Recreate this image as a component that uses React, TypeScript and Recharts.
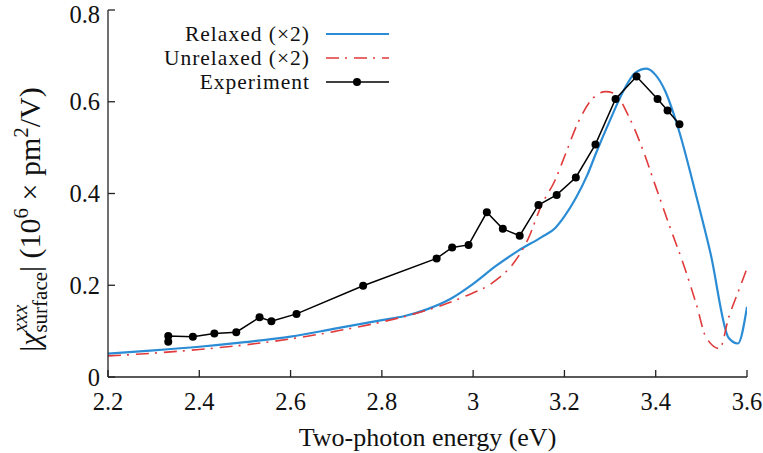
import { LineChart, Line, XAxis, YAxis, Legend, Label } from 'recharts';

// two-photon energy (eV) / |chi| values
const relaxedE = [2.2, 2.3, 2.4, 2.5, 2.6, 2.7, 2.8, 2.85, 2.9, 2.95, 3.0, 3.05, 3.1, 3.15, 3.18, 3.2, 3.225, 3.25, 3.27, 3.3, 3.33, 3.355, 3.38, 3.4, 3.42, 3.45, 3.49, 3.52, 3.56, 3.58, 3.6];
const relaxedChi = [0.051, 0.058, 0.066, 0.076, 0.088, 0.106, 0.124, 0.133, 0.148, 0.17, 0.203, 0.242, 0.276, 0.305, 0.325, 0.35, 0.39, 0.44, 0.49, 0.56, 0.625, 0.663, 0.672, 0.658, 0.625, 0.54, 0.39, 0.27, 0.085, 0.073, 0.153];

const unrelaxedE = [2.2, 2.3, 2.4, 2.5, 2.6, 2.7, 2.8, 2.9, 2.98, 3.05, 3.09, 3.12, 3.15, 3.18, 3.2, 3.23, 3.26, 3.29, 3.31, 3.34, 3.37, 3.4, 3.43, 3.46, 3.49, 3.51, 3.54, 3.56, 3.585, 3.6];
const unrelaxedChi = [0.046, 0.052, 0.06, 0.07, 0.083, 0.1, 0.12, 0.146, 0.175, 0.211, 0.25, 0.3, 0.375, 0.43, 0.48, 0.555, 0.605, 0.622, 0.618, 0.57, 0.5, 0.415, 0.33, 0.248, 0.155, 0.087, 0.062, 0.13, 0.197, 0.237];

const expE = [2.332, 2.332, 2.386, 2.433, 2.481, 2.532, 2.558, 2.613, 2.759, 2.92, 2.954, 2.99, 3.03, 3.065, 3.102, 3.143, 3.183, 3.225, 3.268, 3.312, 3.358, 3.404, 3.426, 3.452];
const expChi = [0.077, 0.0895, 0.088, 0.095, 0.0976, 0.13, 0.1216, 0.1376, 0.199, 0.2585, 0.2825, 0.288, 0.359, 0.323, 0.308, 0.375, 0.397, 0.435, 0.507, 0.606, 0.655, 0.606, 0.581, 0.551];

const xTicks = [2.2, 2.4, 2.6, 2.8, 3, 3.2, 3.4, 3.6];
const yTicks = [0, 0.2, 0.4, 0.6, 0.8];

const BLUE = '#2b8cd6';
const RED = '#e03a3a';
const FONT = "Liberation Serif, 'DejaVu Serif', serif";
const DASH = '13 6 2 7';

const pts = (xs: number[], ys: number[]) => xs.map((x, i) => ({ x, y: ys[i] }));
const relaxed = pts(relaxedE, relaxedChi);
const unrelaxed = pts(unrelaxedE, unrelaxedChi);
const experiment = pts(expE, expChi);

const legendItems = [
  { label: 'Relaxed (×2)', color: BLUE, width: 2.2, dash: undefined as string | undefined, dot: false },
  { label: 'Unrelaxed (×2)', color: RED, width: 1.6, dash: DASH, dot: false },
  { label: 'Experiment', color: '#000', width: 1.5, dash: undefined, dot: true },
];

function LegendBox() {
  return (
    <div style={{ fontFamily: FONT, fontSize: 21.5, letterSpacing: 1, color: '#111' }}>
      {legendItems.map((it) => (
        <div key={it.label} style={{ display: 'flex', alignItems: 'center', height: 24 }}>
          <div style={{ width: 170, height: 24, lineHeight: '24px', textAlign: 'right', whiteSpace: 'nowrap' }}>{it.label}</div>
          <svg width={80} height={12} style={{ marginLeft: 16 }}>
            <line x1={0} y1={6} x2={63} y2={6} stroke={it.color} strokeWidth={it.width} strokeDasharray={it.dash} />
            {it.dot && <circle cx={31} cy={6} r={4} fill="#000" />}
          </svg>
        </div>
      ))}
    </div>
  );
}

function YTitle(props: any) {
  const vb = props.viewBox || { x: 48, y: 10, width: 60, height: 367 };
  const cx = vb.x - 8;
  const cy = vb.y + vb.height / 2 + 26;
  return (
    <text transform={`translate(${cx},${cy}) rotate(-90)`} textAnchor="middle" fontFamily={FONT} fontSize={30} fill="#111">
      <tspan>|</tspan>
      <tspan fontStyle="italic">χ</tspan>
      <tspan fontSize={21} fontStyle="italic" dy={-13}>xxx</tspan>
      <tspan fontSize={21} dx={-28} dy={20}>surface</tspan>
      <tspan dy={-7}>| (10</tspan>
      <tspan fontSize={21} dy={-12}>6</tspan>
      <tspan dy={12}> × pm</tspan>
      <tspan fontSize={21} dy={-12}>2</tspan>
      <tspan dy={12}>/V)</tspan>
    </text>
  );
}

function XTitle(props: any) {
  const vb = props.viewBox || { x: 108, y: 377, width: 639, height: 76 };
  return (
    <text x={vb.x + vb.width / 2} y={vb.y + 69} textAnchor="middle" fontFamily={FONT} fontSize={26} fill="#111">
      Two-photon energy (eV)
    </text>
  );
}

const tickStyle = { fontFamily: FONT, fontSize: 24.5, fill: '#111' };
const axisStroke = { stroke: '#222', strokeWidth: 1.3 };

export default function App() {
  return (
    <div style={{ position: 'absolute', left: 0, top: 0 }}>
      <LineChart width={763} height={453} margin={{ top: 10, right: 16, bottom: 0, left: 48 }}>
        <XAxis
          xAxisId="b"
          dataKey="x"
          type="number"
          domain={[2.2, 3.6]}
          ticks={xTicks}
          allowDataOverflow
          height={76}
          tickSize={-7}
          tickMargin={23}
          tick={tickStyle}
          axisLine={axisStroke}
          tickLine={axisStroke}
        >
          <Label content={<XTitle />} />
        </XAxis>
        <XAxis
          xAxisId="t"
          orientation="top"
          dataKey="x"
          type="number"
          domain={[2.2, 3.6]}
          ticks={xTicks}
          height={0}
          tickSize={-7}
          tick={false}
          axisLine={axisStroke}
          tickLine={axisStroke}
        />
        <YAxis
          yAxisId="l"
          type="number"
          domain={[0, 0.8]}
          ticks={yTicks}
          allowDataOverflow
          width={60}
          tickSize={-7}
          tickMargin={15}
          tick={tickStyle}
          axisLine={axisStroke}
          tickLine={axisStroke}
        >
          <Label content={<YTitle />} />
        </YAxis>
        <YAxis
          yAxisId="r"
          orientation="right"
          type="number"
          domain={[0, 0.8]}
          ticks={yTicks}
          width={0}
          tickSize={-7}
          tick={false}
          axisLine={axisStroke}
          tickLine={axisStroke}
        />
        <Legend
          layout="vertical"
          align="center"
          verticalAlign="middle"
          content={() => <LegendBox />}
          wrapperStyle={{ position: 'absolute', left: 140, top: 22, width: 280, height: 72 }}
        />
        <Line
          xAxisId="b"
          yAxisId="l"
          data={relaxed}
          dataKey="y"
          type="monotone"
          stroke={BLUE}
          strokeWidth={2.2}
          dot={false}
          isAnimationActive={false}
        />
        <Line
          xAxisId="b"
          yAxisId="l"
          data={unrelaxed}
          dataKey="y"
          type="monotone"
          stroke={RED}
          strokeWidth={1.6}
          strokeDasharray={DASH}
          dot={false}
          isAnimationActive={false}
        />
        <Line
          xAxisId="b"
          yAxisId="l"
          data={experiment}
          dataKey="y"
          type="linear"
          stroke="#000"
          strokeWidth={1.5}
          dot={{ r: 4, fill: '#000', stroke: '#000', strokeWidth: 0 }}
          isAnimationActive={false}
        />
      </LineChart>
    </div>
  );
}
